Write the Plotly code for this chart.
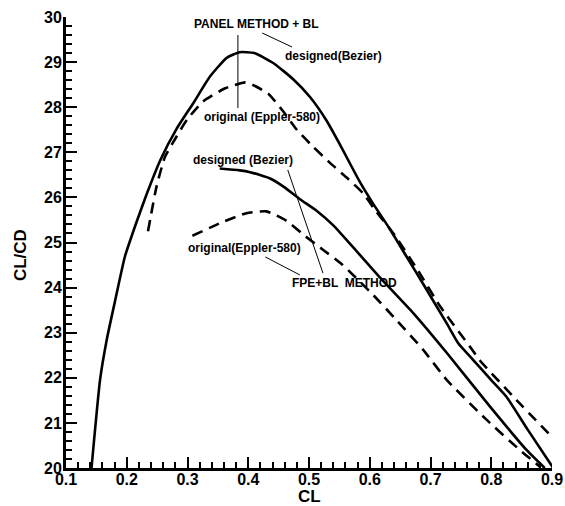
import plotly.graph_objects as go

# Panel method + BL, designed (Bezier) - solid upper
panel_designed_cl = [0.142, 0.156, 0.167, 0.181, 0.197, 0.216, 0.233, 0.255, 0.282, 0.31, 0.337, 0.365,
                     0.386, 0.41, 0.441, 0.474, 0.502, 0.529, 0.551, 0.583, 0.606, 0.633, 0.66, 0.688,
                     0.727, 0.746, 0.77, 0.8, 0.825, 0.86, 0.902]
panel_designed_y = [20.0, 21.95, 22.84, 23.72, 24.69, 25.45, 26.08, 26.82, 27.52, 28.1, 28.68, 29.1,
                    29.22, 29.2, 28.98, 28.62, 28.22, 27.7, 27.17, 26.36, 25.85, 25.3, 24.7, 24.08,
                    23.2, 22.76, 22.4, 21.95, 21.58, 20.85, 20.0]

# Panel method + BL, original (Eppler-580) - dashed upper
panel_orig_cl = [0.235, 0.249, 0.263, 0.282, 0.299, 0.325, 0.362, 0.395, 0.408, 0.433, 0.458, 0.48,
                 0.507, 0.535, 0.562, 0.589, 0.611, 0.639, 0.677, 0.716, 0.765, 0.781, 0.842, 0.902]
panel_orig_y = [25.25, 26.24, 26.9, 27.35, 27.72, 28.12, 28.42, 28.55, 28.49, 28.3, 27.9, 27.5,
                27.12, 26.76, 26.44, 26.09, 25.68, 25.2, 24.43, 23.58, 22.69, 22.39, 21.5, 20.66]

# FPE + BL method, designed (Bezier) - solid lower
fpe_designed_cl = [0.353, 0.386, 0.403, 0.436, 0.458, 0.485, 0.513, 0.54, 0.567, 0.617, 0.672,
                   0.727, 0.798, 0.858, 0.888]
fpe_designed_y = [26.64, 26.6, 26.56, 26.42, 26.24, 25.96, 25.7, 25.38, 24.98, 24.22, 23.43,
                  22.55, 21.36, 20.4, 20.0]

# FPE + BL method, original (Eppler-580) - dashed lower
fpe_orig_cl = [0.308, 0.359, 0.397, 0.43, 0.463, 0.491, 0.524, 0.554, 0.606, 0.644, 0.688, 0.727,
               0.793, 0.847, 0.88]
fpe_orig_y = [25.15, 25.46, 25.65, 25.69, 25.48, 25.17, 24.83, 24.52, 23.83, 23.28, 22.62, 21.95,
              21.06, 20.4, 20.03]

x_ticks = [0.1, 0.2, 0.3, 0.4, 0.5, 0.6, 0.7, 0.8, 0.9]
y_ticks = [20, 21, 22, 23, 24, 25, 26, 27, 28, 29, 30]

# text labels (text, x, y)
label_texts = ["PANEL METHOD + BL", "designed(Bezier)", "original (Eppler-580)",
               "designed (Bezier)", "original(Eppler-580)", "FPE+BL  METHOD"]
label_x = [0.413, 0.54, 0.422, 0.391, 0.393, 0.559]
label_y = [29.845, 29.135, 27.78, 26.83, 24.88, 24.10]

# leader lines (x0, y0, x1, y1)
leader_x0 = [0.423, 0.383, 0.465, 0.428]
leader_y0 = [29.645, 29.6, 26.61, 24.68]
leader_x1 = [0.472, 0.383, 0.523, 0.485]
leader_y1 = [29.335, 27.98, 24.32, 24.28]

FONT = "Liberation Sans, Arial, sans-serif"
DASH = "11px,7px"

fig = go.Figure()
series = [
    (panel_designed_cl, panel_designed_y, "solid"),
    (panel_orig_cl, panel_orig_y, DASH),
    (fpe_designed_cl, fpe_designed_y, "solid"),
    (fpe_orig_cl, fpe_orig_y, DASH),
]
for xs, ys, dash in series:
    fig.add_trace(go.Scatter(x=xs, y=ys, mode="lines",
                             line=dict(color="black", width=2.6, dash=dash, shape="spline", smoothing=0.5),
                             showlegend=False, hoverinfo="skip"))

for t, x, y in zip(label_texts, label_x, label_y):
    fig.add_annotation(x=x, y=y, text=t, showarrow=False, xref="x", yref="y",
                       xanchor="center", yanchor="middle",
                       font=dict(family=FONT, size=12, color="black", weight="bold"))

for x0, y0, x1, y1 in zip(leader_x0, leader_y0, leader_x1, leader_y1):
    fig.add_shape(type="line", x0=x0, y0=y0, x1=x1, y1=y1, xref="x", yref="y",
                  line=dict(color="black", width=1))

# axis titles
fig.add_annotation(x=-0.0947, y=0.472, xref="paper", yref="paper", text="CL/CD", textangle=-90,
                   xanchor="center", yanchor="middle",
                   showarrow=False, font=dict(family=FONT, size=17, color="black", weight="bold"))
fig.add_annotation(x=0.5, y=-0.063, xref="paper", yref="paper", text="CL",
                   xanchor="center", yanchor="middle", borderpad=0,
                   showarrow=False, font=dict(family=FONT, size=17, color="black", weight="bold"))

axis_common = dict(showgrid=False, zeroline=False, showline=True, linecolor="black", linewidth=3,
                   ticks="inside", ticklen=11, tickwidth=2, tickcolor="black", automargin=False,
                   tickfont=dict(family=FONT, size=16, color="black", weight="bold"), mirror=False)

fig.update_xaxes(range=[0.1, 0.9], tickvals=x_ticks, ticktext=[f"{v:.1f}" for v in x_ticks],
                 ticklabelstandoff=-5,
                 minor=dict(dtick=0.02, tick0=0.1, ticks="inside", ticklen=6, tickwidth=1.5, tickcolor="black"),
                 **axis_common)
fig.update_yaxes(range=[20, 30], tickvals=y_ticks, ticktext=[str(v) for v in y_ticks],
                 ticklabelstandoff=-2,
                 minor=dict(dtick=0.2, tick0=20, ticks="inside", ticklen=6, tickwidth=1.5, tickcolor="black"),
                 **axis_common)

fig.update_layout(width=565, height=506, margin=dict(l=66, r=13, t=17, b=38),
                  plot_bgcolor="white", paper_bgcolor="white")

fig.write_html("out.html")
